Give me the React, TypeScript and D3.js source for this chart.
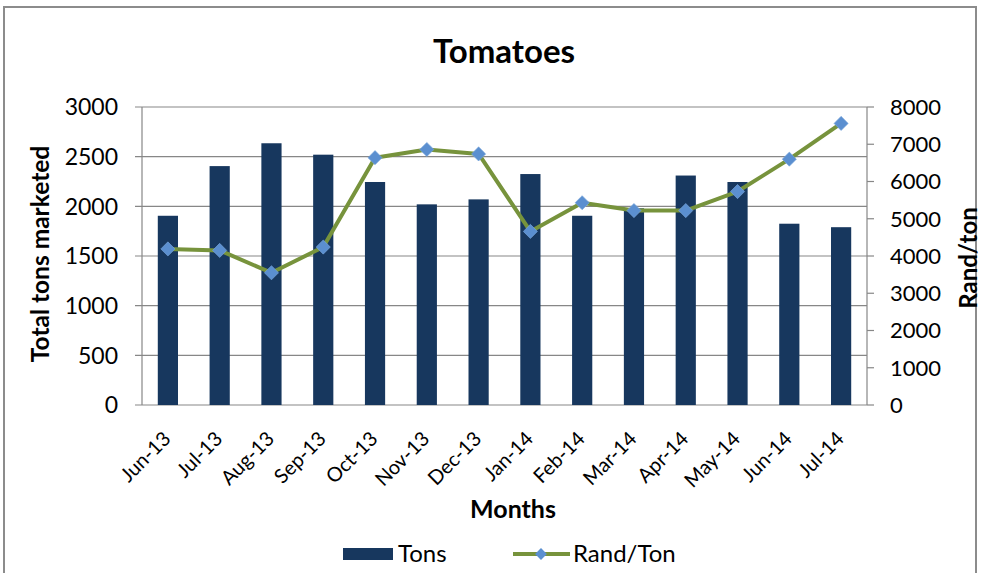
import React, { useEffect } from 'react';
import * as d3 from 'd3';

const months = ['Jun-13', 'Jul-13', 'Aug-13', 'Sep-13', 'Oct-13', 'Nov-13', 'Dec-13', 'Jan-14', 'Feb-14', 'Mar-14', 'Apr-14', 'May-14', 'Jun-14', 'Jul-14'];
const tons = [1905, 2405, 2635, 2520, 2245, 2020, 2070, 2325, 1905, 1980, 2310, 2245, 1825, 1790];
const randPerTon = [4190, 4150, 3550, 4240, 6640, 6860, 6740, 4660, 5430, 5220, 5220, 5730, 6600, 7560];
const leftTicks = [0, 500, 1000, 1500, 2000, 2500, 3000];
const rightTicks = [0, 1000, 2000, 3000, 4000, 5000, 6000, 7000, 8000];

const W = 990;
const H = 573;
const plot = { left: 142, right: 867, top: 107, bottom: 405 };
const font = 'Lato, "Open Sans", sans-serif';
const navy = '#17375e';
const olive = '#77933c';
const markerBlue = '#5b8fd0';
const grid = '#878787';

const App: React.FC = () => {
  useEffect(() => {
    document.body.style.margin = '0';
  }, []);

  const x = d3.scaleBand<string>().domain(months).range([plot.left, plot.right]).paddingInner(0.61).paddingOuter(0.305);
  const yL = d3.scaleLinear().domain([0, 3000]).range([plot.bottom, plot.top]);
  const yR = d3.scaleLinear().domain([0, 8000]).range([plot.bottom, plot.top]);
  const cx = (m: string) => (x(m) ?? 0) + x.bandwidth() / 2;

  const line = d3.line<number>()
    .x((_d, i) => cx(months[i]))
    .y(d => yR(d));

  const diamond = d3.symbol().type(d3.symbolSquare).size(100);
  const smallDiamond = d3.symbol().type(d3.symbolSquare).size(70);

  return (
    <svg width={W} height={H} style={{ display: 'block' }} fontFamily={font}>
      <rect x={0} y={0} width={W} height={H} fill="#fff" />
      <rect x={4} y={7} width={972} height={590} fill="none" stroke="#8c8c8c" strokeWidth={2} />

      <text x={504} y={63} textAnchor="middle" fontSize={33} fontWeight="bold" fill="#000">Tomatoes</text>

      {/* gridlines + left axis */}
      {leftTicks.map(t => (
        <g key={'l' + t}>
          <line x1={plot.left - 7} x2={plot.right} y1={yL(t)} y2={yL(t)} stroke={grid} strokeWidth={1.2} />
          <text x={plot.left - 24} y={yL(t)} dy="0.36em" textAnchor="end" fontSize={23} fill="#000">{t}</text>
        </g>
      ))}
      <line x1={plot.left} x2={plot.left} y1={plot.top} y2={plot.bottom} stroke={grid} strokeWidth={1.2} />

      {/* right axis */}
      <line x1={plot.right} x2={plot.right} y1={plot.top} y2={plot.bottom} stroke={grid} strokeWidth={1.2} />
      {rightTicks.map(t => (
        <g key={'r' + t}>
          <line x1={plot.right} x2={plot.right + 7} y1={yR(t)} y2={yR(t)} stroke={grid} strokeWidth={1.2} />
          <text x={plot.right + 23} y={yR(t)} dy="0.36em" textAnchor="start" fontSize={22} fill="#000">{t}</text>
        </g>
      ))}

      {/* bars */}
      {months.map((m, i) => (
        <rect key={m} x={x(m)} y={yL(tons[i])} width={x.bandwidth()} height={plot.bottom - yL(tons[i])} fill={navy} />
      ))}

      {/* line */}
      <path d={line(randPerTon) ?? ''} fill="none" stroke={olive} strokeWidth={4} strokeLinejoin="round" />
      {months.map((m, i) => (
        <path key={'d' + m} d={diamond() ?? ''} transform={`translate(${cx(m)},${yR(randPerTon[i])}) rotate(45)`} fill={markerBlue} stroke="#7aa6da" strokeWidth={0.6} />
      ))}

      {/* x labels */}
      {months.map(m => (
        <text key={'t' + m} transform={`translate(${cx(m) + 4},${plot.bottom + 35}) rotate(-45)`} textAnchor="end" fontSize={20} fill="#000">{m}</text>
      ))}

      <text x={513} y={518} textAnchor="middle" fontSize={25} fontWeight="bold" fill="#000">Months</text>
      <text transform="translate(49,254) rotate(-90)" textAnchor="middle" fontSize={24.5} fontWeight="bold" fill="#000">Total tons marketed</text>
      <text transform="translate(977,258) rotate(-90)" textAnchor="middle" fontSize={24} fontWeight="bold" fill="#000">Rand/ton</text>

      {/* legend */}
      <rect x={343} y={548} width={50} height={12} fill={navy} />
      <text x={398} y={553} dy="0.36em" fontSize={24} fill="#000">Tons</text>
      <line x1={513} x2={570} y1={554} y2={554} stroke={olive} strokeWidth={4} />
      <path d={smallDiamond() ?? ''} transform="translate(541,554) rotate(45)" fill={markerBlue} />
      <text x={573} y={553} dy="0.36em" fontSize={24} fill="#000">Rand/Ton</text>
    </svg>
  );
};

export default App;
